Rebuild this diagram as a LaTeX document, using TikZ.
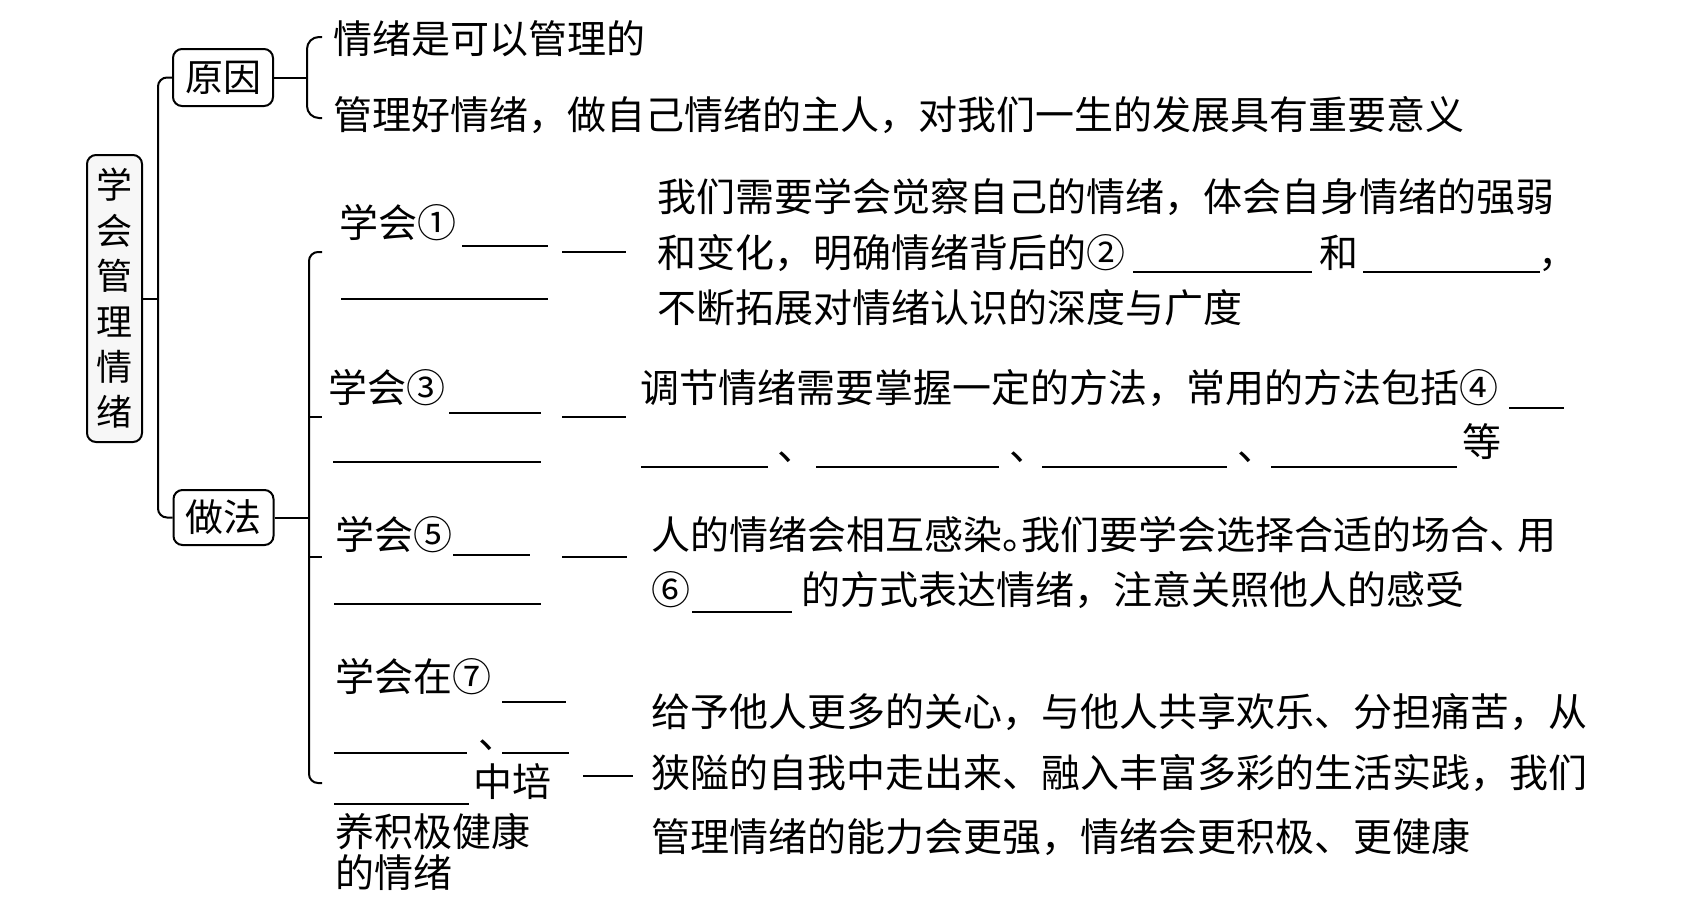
\documentclass[tikz,border=0pt]{standalone}
\usepackage{fontspec}
\setmainfont{Noto Sans CJK SC}
\begin{document}
\begin{tikzpicture}[x=1pt,y=-1pt,
  body/.style={anchor=west, inner sep=0pt, font=\fontsize{39}{44}\selectfont, text height=34.3pt, text depth=4.7pt},
  lab/.style={anchor=west, inner sep=0pt, font=\fontsize{39}{44}\selectfont, text height=34.3pt, text depth=4.7pt},
  box/.style={draw, line width=2pt, rounded corners=9pt, inner sep=0pt, font=\fontsize{38}{44}\selectfont},
  ln/.style={line width=2pt},
  blank/.style={line width=2.2pt}]
\useasboundingbox (0,0) rectangle (1696,908);

% boxes
\node[box, fill=black!3, minimum width=55, minimum height=287, align=center,
      font=\fontsize{36}{45.4}\selectfont] (main) at (114.5,298.5) {学\\会\\管\\理\\情\\绪};
\node[box, minimum width=100, minimum height=57] (reason) at (223,77.5) {原因};
\node[box, minimum width=100, minimum height=55] (method) at (223.5,517.5) {做法};

% trunk
\coordinate (mj) at (158,298.5);
\draw[ln] (main.east) -- (mj);
\draw[ln, rounded corners=9] (reason.west) -| (mj) |- (method.west);

% reason brace
\coordinate (rb) at (307,77.5);
\draw[ln] (reason.east) -- (rb);
\draw[ln, rounded corners=12] (322,37) -| (307,118) -- (322,118);
\node[body] (r1) at (333,39) {情绪是可以管理的};
\node[body] (r2) at (333,115) {管理好情绪，做自己情绪的主人，对我们一生的发展具有重要意义};

% method bracket
\coordinate (mb) at (309,517.5);
\draw[ln] (method.east) -- (mb);
\draw[ln, rounded corners=9] (322,252) -| (309,783) -- (322,783);
\draw[ln] (309,417) -- (322,417);
\draw[ln] (309,557) -- (322,557);

% item 1
\node[lab] (a1) at (339,223) {学会①};
\draw[blank] (462,246) -- (548,246);
\draw[blank] (341,299) -- (548,299);
\coordinate (c1a) at (562,252); \coordinate (c1b) at (626,252);
\draw[ln] (c1a) -- (c1b);
\node[body] (d1a) at (657,197) {我们需要学会觉察自己的情绪，体会自身情绪的强弱};
\node[body] (d1b) at (657,253) {和变化，明确情绪背后的②};
\draw[blank] (1133,272) -- (1312,272);
\node[body] (d1c) at (1319,253) {和};
\draw[blank] (1363,272) -- (1540,272);
\node[body] (d1d) at (1538,253) {，};
\node[body] (d1e) at (657,308) {不断拓展对情绪认识的深度与广度};

% item 2
\node[lab] (a2) at (328,388) {学会③};
\draw[blank] (449,413) -- (541,413);
\draw[blank] (333,462) -- (541,462);
\coordinate (c2a) at (562,417); \coordinate (c2b) at (626,417);
\draw[ln] (c2a) -- (c2b);
\node[body] (d2a) at (640,388) {调节情绪需要掌握一定的方法，常用的方法包括④};
\draw[blank] (1509,408) -- (1564,408);
\draw[blank] (641,467) -- (768,467);
\node[body] (p1) at (777,446) {、};
\draw[blank] (816,467) -- (999,467);
\node[body] (p2) at (1009,446) {、};
\draw[blank] (1042,467) -- (1227,467);
\node[body] (p3) at (1237,446) {、};
\draw[blank] (1271,467) -- (1457,467);
\node[body] (d2b) at (1462,442) {等};

% item 3
\node[lab] (a3) at (335,535) {学会⑤};
\draw[blank] (453,555) -- (530,555);
\draw[blank] (334,604) -- (541,604);
\coordinate (c3a) at (562,557); \coordinate (c3b) at (627,557);
\draw[ln] (c3a) -- (c3b);
\node[body] (d3a) at (651,535) {人的情绪会相互感染。\hspace{-0.5em}我们要学会选择合适的场合、\hspace{-0.3em}用};
\node[body] (d3b) at (651,590) {⑥};
\draw[blank] (692,612) -- (792,612);
\node[body] (d3c) at (801,590) {的方式表达情绪，注意关照他人的感受};

% item 4
\node[lab] (a4) at (335,677) {学会在⑦};
\draw[blank] (502,702) -- (566,702);
\draw[blank] (334,753) -- (467,753);
\node[lab] (p4) at (478,734) {、};
\draw[blank] (502,753) -- (569,753);
\draw[blank] (334,804) -- (469,804);
\node[lab] (a4b) at (473,782) {中培};
\coordinate (c4a) at (583,776); \coordinate (c4b) at (633,776);
\draw[ln] (c4a) -- (c4b);
\node[lab] (a4c) at (335,832) {养积极健康};
\node[lab] (a4d) at (335,873) {的情绪};
\node[body] (d4a) at (651,712) {给予他人更多的关心，与他人共享欢乐、分担痛苦，从};
\node[body] (d4b) at (651,773) {狭隘的自我中走出来、融入丰富多彩的生活实践，我们};
\node[body] (d4c) at (651,837) {管理情绪的能力会更强，情绪会更积极、更健康};
\end{tikzpicture}
\end{document}
